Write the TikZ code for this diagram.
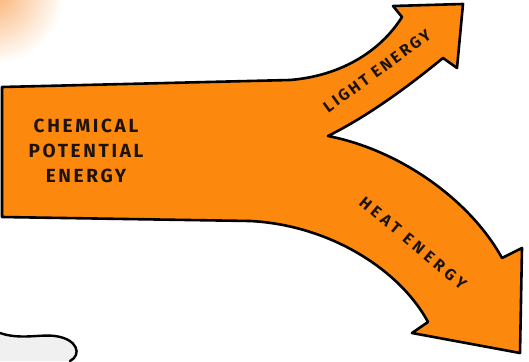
\documentclass[tikz,border=0pt]{standalone}
\usepackage{fontspec}
\setmainfont{Fira Sans}
\begin{document}
\begin{tikzpicture}[x=1pt,y=-1pt,
  flow/.style={fill=flowfill,draw=black,line width=2.6pt,line join=round},
  lbl/.style={text=black!85!brown,inner sep=0pt,align=center},
]
\definecolor{flowfill}{RGB}{252,137,14}
\useasboundingbox (0,0) rectangle (529,361);
\clip (0,0) rectangle (529,361);
% warm glow in the upper left corner
\shade[inner color={rgb,255:red,250;green,175;blue,110},outer color=white] (-8,-8) circle (72);
% the branching energy arrow
\draw[flow] (2,87) -- (290,80)
  .. controls (340,76) and (380,52) .. (402,17)
  -- (393,6) -- (463,4) -- (457,68) -- (443,58)
  .. controls (410,85) and (370,115) .. (328,136)
  .. controls (400,150) and (470,200) .. (502,258)
  -- (522,248) -- (520,353) -- (412,333) -- (428,322)
  .. controls (400,270) and (330,225) .. (250,221)
  -- (2,217) -- cycle;
% labels
\node[lbl,font=\fontsize{19}{25}\selectfont\bfseries\addfontfeatures{LetterSpace=14}] (chem) at (86,151)
  {CHEMICAL\\POTENTIAL\\ENERGY};
\node[lbl,rotate=36,font=\fontsize{16}{16}\selectfont\bfseries\addfontfeatures{LetterSpace=16}] (light) at (377,71) {LIGHT ENERGY};
\node[lbl,rotate=-40,font=\fontsize{16}{16}\selectfont\bfseries\addfontfeatures{LetterSpace=26}] (heat) at (413,243) {HEAT ENERGY};
% edge of a hand drawn at the lower left
\fill[black!6] (0,333) .. controls (20,340) and (40,334) .. (55,336)
  .. controls (78,339) and (82,355) .. (72,361) -- (0,361) -- cycle;
\draw[line width=2.4pt,line cap=round] (0,333) .. controls (20,340) and (40,334) .. (55,336)
  .. controls (78,339) and (82,355) .. (70,361);
\end{tikzpicture}
\end{document}
